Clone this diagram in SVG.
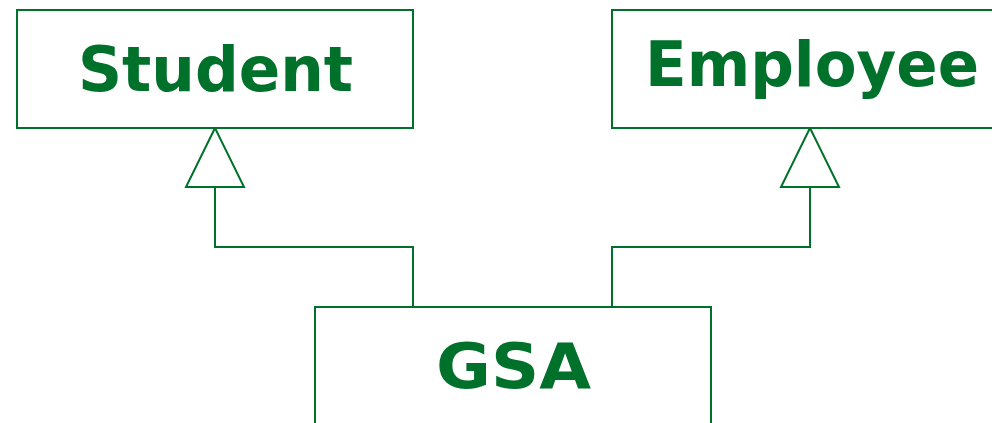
<svg xmlns="http://www.w3.org/2000/svg" width="992" height="423" viewBox="0 0 992 423">
<style>
.box{fill:#fff;stroke:#00712a;stroke-width:2}
.lbl{fill:#00712a;font-family:"DejaVu Sans",sans-serif;font-weight:bold;font-size:63px}
.con{fill:none;stroke:#00712a;stroke-width:2}
.tri{fill:#fff;stroke:#00712a;stroke-width:2;stroke-linejoin:miter}
</style>
<rect width="992" height="423" fill="#fff"/>
<g id="connectors">
<polyline class="con" points="215,187 215,247 413,247 413,307"/>
<polyline class="con" points="810,187 810,247 612,247 612,307"/>
<polygon class="tri" points="215,128 186,187 244,187"/>
<polygon class="tri" points="810,128 781,187 839,187"/>
</g>
<g id="student">
<rect class="box" x="17" y="10" width="396" height="118"/>
<text class="lbl" x="78" y="91" textLength="275" lengthAdjust="spacingAndGlyphs">Student</text>
</g>
<g id="employee">
<rect class="box" x="612" y="10" width="396" height="118"/>
<text class="lbl" x="645" y="86" textLength="334" lengthAdjust="spacingAndGlyphs">Employee</text>
</g>
<g id="gsa">
<rect class="box" x="315" y="307" width="396" height="130"/>
<text class="lbl" x="436" y="388" textLength="155" lengthAdjust="spacingAndGlyphs">GSA</text>
</g>
</svg>
